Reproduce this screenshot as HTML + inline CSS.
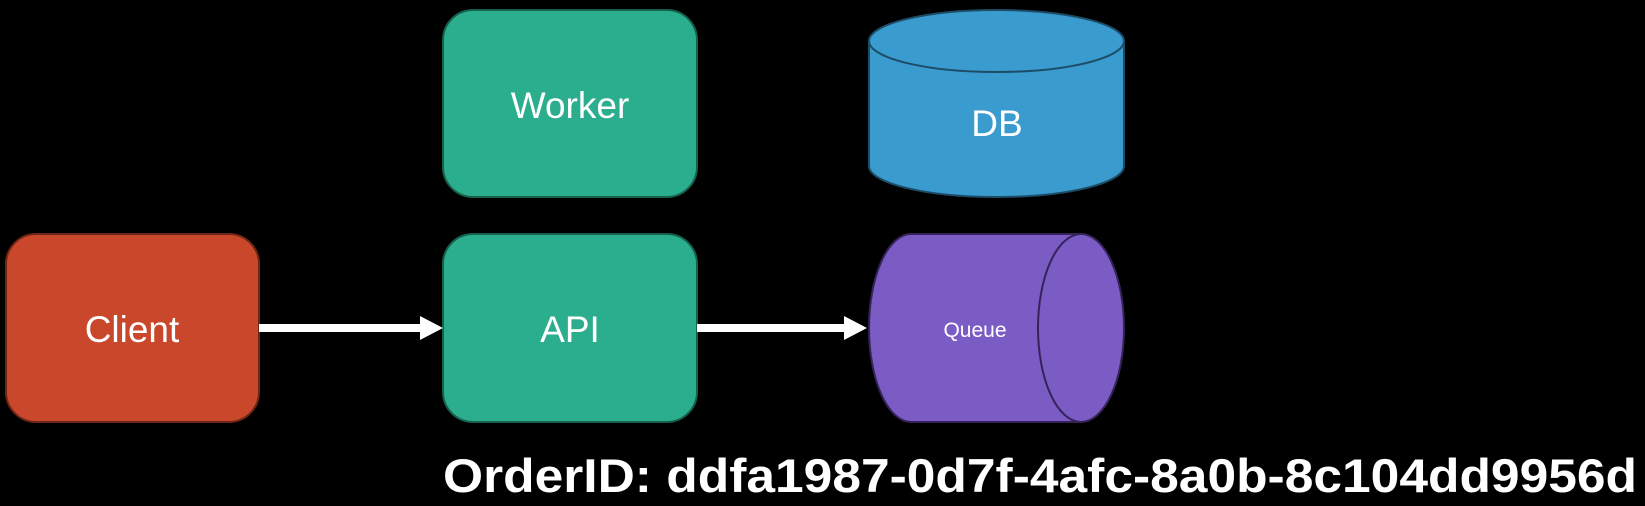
<!DOCTYPE html>
<html><head><meta charset="utf-8"><style>
html,body{margin:0;padding:0;background:#000;width:1645px;height:506px;overflow:hidden}
svg{display:block}
text{font-family:"Liberation Sans",sans-serif;fill:#fff}
</style></head><body>
<svg width="1645" height="506" viewBox="0 0 1645 506">
<rect width="1645" height="506" fill="#000"/>
<rect x="6" y="234" width="253" height="188" rx="30" fill="#C9482B" stroke="#6e2616" stroke-width="2"/>
<text x="132" y="342" font-size="37" text-anchor="middle">Client</text>
<rect x="443" y="234" width="254" height="188" rx="30" fill="#2BAE8D" stroke="#17604c" stroke-width="2"/>
<text x="570" y="342" font-size="37" text-anchor="middle">API</text>
<rect x="443" y="10" width="254" height="187" rx="30" fill="#2BAE8D" stroke="#17604c" stroke-width="2"/>
<text x="570" y="118" font-size="37" text-anchor="middle">Worker</text>
<line x1="259" y1="328" x2="422" y2="328" stroke="#fff" stroke-width="8"/>
<polygon points="420,316 443,328 420,340" fill="#fff"/>
<line x1="697" y1="328" x2="846" y2="328" stroke="#fff" stroke-width="8"/>
<polygon points="844,316 867,328 844,340" fill="#fff"/>
<path d="M869,41 L869,166 A127.5,31 0 0 0 1124,166 L1124,41 Z" fill="#3A9BCF" stroke="#1d4d66" stroke-width="2"/>
<ellipse cx="996.5" cy="41" rx="127.5" ry="31" fill="#3A9BCF" stroke="#1d4d66" stroke-width="2"/>
<text x="997" y="136" font-size="37" text-anchor="middle">DB</text>
<path d="M911,234 L1081,234 L1081,422 L911,422 A42,94 0 0 1 911,234 Z" fill="#7B5CC4" stroke="#35235a" stroke-width="2"/>
<ellipse cx="1081" cy="328" rx="43" ry="94" fill="#7B5CC4" stroke="#35235a" stroke-width="2"/>
<text x="975" y="337" font-size="21" text-anchor="middle">Queue</text>
<text x="443" y="492" font-size="47" font-weight="bold" textLength="1194" lengthAdjust="spacingAndGlyphs">OrderID: ddfa1987-0d7f-4afc-8a0b-8c104dd9956d</text>
</svg>
</body></html>
